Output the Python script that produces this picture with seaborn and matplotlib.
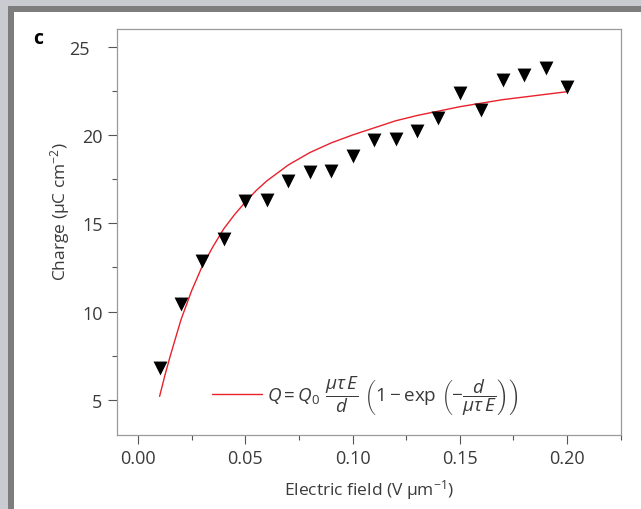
import matplotlib
matplotlib.use('Agg')
import matplotlib.pyplot as plt
import seaborn as sns
import pandas as pd
from matplotlib.patches import Rectangle
from matplotlib.ticker import MultipleLocator
from matplotlib.transforms import ScaledTranslation

field = [0.01, 0.02, 0.03, 0.04, 0.05, 0.06, 0.07, 0.08, 0.09, 0.10,
         0.11, 0.12, 0.13, 0.14, 0.15, 0.16, 0.17, 0.18, 0.19, 0.20]
charge = [6.82, 10.43, 12.85, 14.11, 16.28, 16.33, 17.41, 17.90, 17.98, 18.83,
          19.73, 19.77, 20.22, 20.94, 22.37, 21.41, 23.12, 23.38, 23.82, 22.69]

# Fitted curve
fit_field = [0.010, 0.0125, 0.015, 0.020, 0.025, 0.030, 0.035, 0.040, 0.045, 0.050,
             0.055, 0.060, 0.065, 0.070, 0.080, 0.090, 0.100, 0.110, 0.120, 0.130,
             0.140, 0.150, 0.160, 0.170, 0.180, 0.190, 0.200]
fit_charge = [5.2, 6.4, 7.5, 9.55, 11.2, 12.6, 13.7, 14.7, 15.5, 16.2,
              16.85, 17.4, 17.85, 18.3, 19.0, 19.55, 20.0, 20.4, 20.8, 21.1,
              21.35, 21.6, 21.8, 22.0, 22.15, 22.3, 22.45]

xticks = [0.00, 0.05, 0.10, 0.15, 0.20]
yticks = [5, 10, 15, 20, 25]

df = pd.DataFrame({'E': field, 'Q': charge})
fit = pd.DataFrame({'E': fit_field, 'Q': fit_charge})

sns.set_style('white')
plt.rcParams['font.family'] = ['Open Sans', 'DejaVu Sans']
plt.rcParams['mathtext.fontset'] = 'custom'
plt.rcParams['mathtext.rm'] = 'Open Sans'
plt.rcParams['mathtext.it'] = 'Open Sans:italic'
plt.rcParams['mathtext.bf'] = 'Open Sans:bold'

text_col = '#3a3a3a'
spine_col = '#9a9a9a'

fig = plt.figure(figsize=(6.41, 5.10), dpi=100, facecolor='#c8ccd1')
# screenshot frame
fig.patches.append(Rectangle((8.3 / 641, 0), 1, 1 - 7.3 / 510, transform=fig.transFigure,
                             facecolor='#7d7d7d', edgecolor='none', zorder=-10))
fig.patches.append(Rectangle((14.3 / 641, 0), 1, 1 - 13.3 / 510, transform=fig.transFigure,
                             facecolor='white', edgecolor='none', zorder=-9))

ax = fig.add_axes([116.7 / 641, 1 - 436.2 / 510, 504 / 641, 406.2 / 510])
ax.set_facecolor('none')
ax.set_zorder(5)

sns.lineplot(data=fit, x='E', y='Q', color='#e8212b', linewidth=1.0, ax=ax,
             label=r'$Q = Q_0\ \dfrac{\mu\tau\,E}{d}\ \left(1 - \mathrm{exp}\ \left(-\dfrac{d}{\mu\tau\,E}\right)\right)$',
             zorder=2)
sns.scatterplot(data=df, x='E', y='Q', marker='v', s=100, color='black', linewidth=0,
                ax=ax, zorder=3)

ax.set_xlim(-0.01, 0.225)
ax.set_ylim(3, 26)
ax.set_xticks(xticks)
ax.set_xticklabels([f'{t:.2f}' for t in xticks])
ax.set_yticks(yticks)
ax.xaxis.set_minor_locator(MultipleLocator(0.025))
ax.yaxis.set_minor_locator(MultipleLocator(2.5))

for sp in ax.spines.values():
    sp.set_color(spine_col)
    sp.set_linewidth(0.9)

ax.tick_params(which='major', direction='out', length=6.2, width=0.8, color='#555555',
               labelsize=13, labelcolor=text_col, bottom=True, left=True)
ax.tick_params(which='minor', direction='out', length=3.6, width=0.8, color='#555555',
               bottom=True, left=True)
ax.tick_params(axis='x', which='major', pad=4)
ax.tick_params(axis='y', which='major', pad=4)

# the top y label sits further left in the original
top_lab = ax.yaxis.get_major_ticks()[-1].label1
top_lab.set_transform(top_lab.get_transform() + ScaledTranslation(-0.13, 0, fig.dpi_scale_trans))

ax.set_xlabel(r'Electric field (V $\mathrm{\mu}$m$^{-1}$)', fontsize=12.5, color=text_col, va='center')
ax.set_ylabel(r'Charge ($\mathrm{\mu}$C cm$^{-2}$)', fontsize=12.5, color=text_col, va='center')
ax.xaxis.set_label_coords(0.5, -0.1325)
ax.yaxis.set_label_coords(-0.1125, 0.554)

leg = ax.legend(loc='center left', bbox_to_anchor=(0.1885, 0.099), frameon=False,
                fontsize=13.6, handlelength=2.65, handletextpad=0.3,
                borderpad=0, borderaxespad=0)
for t in leg.get_texts():
    t.set_color(text_col)

fig.text(38 / 641, 1 - 39 / 510, 'c', fontsize=14, fontweight='bold', color='black',
         ha='center', va='center')

fig.savefig('out.png', dpi=100, facecolor=fig.get_facecolor())
